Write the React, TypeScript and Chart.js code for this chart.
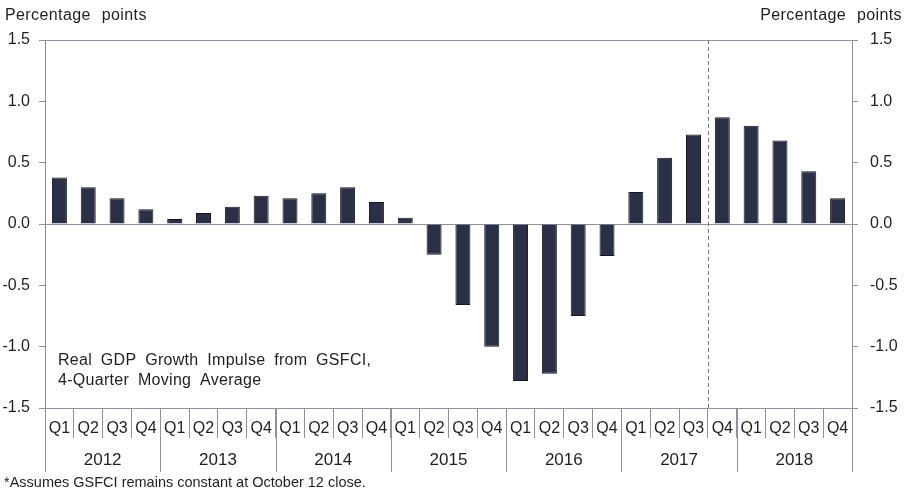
import React, { useEffect, useRef } from "react";
import { Chart, registerables } from "chart.js";

Chart.register(...registerables);

const years = ["2012", "2013", "2014", "2015", "2016", "2017", "2018"];
const quarters = ["Q1", "Q2", "Q3", "Q4"];
const categories = years.flatMap((y) => quarters.map((q) => `${y} ${q}`));
const impulse = [
  0.38, 0.3, 0.21, 0.12,
  0.04, 0.09, 0.14, 0.23,
  0.21, 0.25, 0.3, 0.18,
  0.05, -0.25, -0.66, -1.0,
  -1.28, -1.22, -0.75, -0.26,
  0.26, 0.54, 0.73, 0.87,
  0.8, 0.68, 0.43, 0.21,
];
const yMin = -1.5;
const yMax = 1.5;
const yStep = 0.5;
const forecastStart = "2017 Q4";
const axisTitle = "Percentage points";
const noteLines = ["Real GDP Growth Impulse from GSFCI,", "4-Quarter Moving Average"];
const footnote = "*Assumes GSFCI remains constant at October 12 close.";

const FONT = '"Liberation Sans", Arial, sans-serif';
const TEXT = "#1f1f1f";
const LINE = "#8e90a4";

const overlay = {
  id: "overlay",
  afterDraw(chart: any) {
    const { ctx, chartArea, scales } = chart;
    const x = scales.x;
    const step = x.getPixelForValue(1) - x.getPixelForValue(0);
    ctx.save();
    ctx.fillStyle = TEXT;
    ctx.font = `16px ${FONT}`;
    ctx.textBaseline = "middle";
    (ctx as any).letterSpacing = "0.4px";
    (ctx as any).wordSpacing = "6px";
    ctx.textAlign = "left";
    ctx.fillText(axisTitle, 5, 16);
    ctx.textAlign = "right";
    ctx.fillText(axisTitle, 902, 16);

    // note
    (ctx as any).letterSpacing = "0.3px";
    (ctx as any).wordSpacing = "4px";
    ctx.textAlign = "left";
    noteLines.forEach((t, i) => ctx.fillText(t, 58, 361 + i * 20));
    (ctx as any).letterSpacing = "0px";
    (ctx as any).wordSpacing = "0px";

    // dashed forecast line
    const fi = categories.indexOf(forecastStart);
    const xd = Math.round(x.getPixelForValue(fi) - step / 2) + 0.5;
    ctx.strokeStyle = "#777";
    ctx.lineWidth = 1;
    ctx.setLineDash([4, 3]);
    ctx.beginPath();
    ctx.moveTo(xd, chartArea.top);
    ctx.lineTo(xd, chartArea.bottom);
    ctx.stroke();
    ctx.setLineDash([]);

    // year separators and labels
    ctx.strokeStyle = LINE;
    years.forEach((y, i) => {
      const left = x.getPixelForValue(i * 4) - step / 2;
      const right = x.getPixelForValue(i * 4 + 3) + step / 2;
      [left, right].forEach((px) => {
        const xx = Math.round(px) + 0.5;
        ctx.beginPath();
        ctx.moveTo(xx, chartArea.bottom);
        ctx.lineTo(xx, 472);
        ctx.stroke();
      });
      ctx.textAlign = "center";
      ctx.fillStyle = TEXT;
      ctx.font = `17px ${FONT}`;
      ctx.fillText(y, (left + right) / 2, 460);
    });

    ctx.textAlign = "left";
    ctx.font = `14.5px ${FONT}`;
    ctx.fillText(footnote, 4, 483);
    ctx.restore();
  },
};

export default function App() {
  const ref = useRef<HTMLCanvasElement | null>(null);
  useEffect(() => {
    document.body.style.margin = "0";
    const canvas = ref.current;
    if (!canvas) return;
    const gridColor = (c: any) =>
      c.tick && (c.tick.value === 0 || c.tick.value === yMax) ? LINE : "rgba(0,0,0,0)";
    const chart = new Chart(canvas, {
      type: "bar",
      data: {
        labels: categories,
        datasets: [
          {
            data: impulse,
            backgroundColor: "#2c3047",
            borderColor: "#15161f",
            borderWidth: 1,
            barPercentage: 0.52,
            categoryPercentage: 1,
            yAxisID: "y",
          },
        ],
      },
      options: {
        responsive: false,
        animation: false,
        layout: { padding: { top: 40, left: 0, right: 0, bottom: 0 } },
        plugins: { legend: { display: false }, tooltip: { enabled: false } },
        scales: {
          x: {
            type: "category",
            offset: true,
            grid: {
              offset: true,
              drawOnChartArea: false,
              tickLength: 30,
              color: LINE,
            },
            border: { display: true, color: LINE },
            ticks: {
              autoSkip: false,
              maxRotation: 0,
              padding: -19,
              color: TEXT,
              font: { family: FONT, size: 16 },
              callback: (_v: any, i: number) => categories[i].split(" ")[1],
            },
            afterFit: (s: any) => {
              s.height = 87;
            },
          },
          y: {
            position: "left",
            min: yMin,
            max: yMax,
            grid: { color: gridColor, tickColor: LINE, tickLength: 6 },
            border: { display: true, color: "#8c8c78" },
            ticks: {
              stepSize: yStep,
              padding: 9,
              color: TEXT,
              font: { family: FONT, size: 16 },
              callback: (v: any) => Number(v).toFixed(1),
            },
            afterFit: (s: any) => {
              s.width = 45;
            },
          },
          y2: {
            position: "right",
            min: yMin,
            max: yMax,
            grid: { drawOnChartArea: false, tickColor: LINE, tickLength: 6 },
            border: { display: true, color: LINE },
            ticks: {
              stepSize: yStep,
              padding: 12,
              color: TEXT,
              font: { family: FONT, size: 16 },
              callback: (v: any) => Number(v).toFixed(1),
            },
            afterFit: (s: any) => {
              s.width = 55;
            },
          },
        },
      },
      plugins: [overlay],
    });
    return () => chart.destroy();
  }, []);
  return <canvas ref={ref} width={907} height={495} />;
}
